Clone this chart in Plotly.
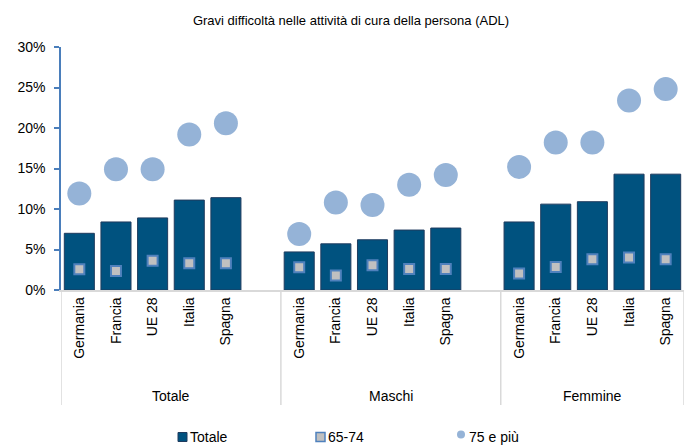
import plotly.graph_objects as go

groups = ["Totale", "Maschi", "Femmine"]
countries = ["Germania", "Francia", "UE 28", "Italia", "Spagna"]

totale = {
    "Totale": [7.0, 8.4, 8.9, 11.1, 11.4],
    "Maschi": [4.7, 5.7, 6.2, 7.4, 7.65],
    "Femmine": [8.4, 10.6, 10.9, 14.3, 14.3],
}
eta_65_74 = {
    "Totale": [2.55, 2.35, 3.6, 3.3, 3.3],
    "Maschi": [2.8, 1.8, 3.05, 2.6, 2.6],
    "Femmine": [2.05, 2.85, 3.8, 4.0, 3.8],
}
eta_75_piu = {
    "Totale": [11.9, 14.9, 14.9, 19.2, 20.6],
    "Maschi": [6.9, 10.8, 10.5, 13.0, 14.2],
    "Femmine": [15.2, 18.2, 18.2, 23.4, 24.8],
}
y_ticks = [0, 5, 10, 15, 20, 25, 30]

FONT = "Liberation Sans, Arial, sans-serif"

# positions: each group has 5 slots + 1 empty slot (except the last)
xs, labels, tot, y65, y75 = [], [], [], [], []
group_ranges = []
pos = 0
for gi, g in enumerate(groups):
    start = pos
    for ci, c in enumerate(countries):
        xs.append(pos)
        labels.append(c)
        tot.append(totale[g][ci])
        y65.append(eta_65_74[g][ci])
        y75.append(eta_75_piu[g][ci])
        pos += 1
    if gi < len(groups) - 1:
        pos += 1
    group_ranges.append((start - 0.5, pos - 0.5))

fig = go.Figure()
fig.add_trace(go.Bar(
    x=xs, y=tot, name="Totale",
    marker=dict(color="#00527f", line=dict(color="#1f3b5e", width=1)),
    showlegend=False,
))
fig.add_trace(go.Scatter(
    x=xs, y=y65, name="65-74", mode="markers",
    marker=dict(symbol="square", size=10, color="#c0c0c0",
                line=dict(color="#4f81bd", width=2)),
    showlegend=False,
))
fig.add_trace(go.Scatter(
    x=xs, y=y75, name="75 e più", mode="markers",
    marker=dict(symbol="circle", size=24, color="#95b3d7",
                line=dict(color="#95b3d7", width=0)),
    showlegend=False,
))

shapes = []
annotations = []
# group separators
bounds = [group_ranges[0][0]] + [r[1] for r in group_ranges]
for b in bounds:
    shapes.append(dict(type="line", xref="x", yref="paper", x0=b, x1=b,
                       y0=0, y1=-0.473, line=dict(color="#d9d9d9", width=1.5)))
for g, (a, b) in zip(groups, group_ranges):
    annotations.append(dict(x=(a + b) / 2, y=-0.436, xref="x", yref="paper",
                            text=g, showarrow=False, xanchor="center", yanchor="middle",
                            font=dict(family=FONT, size=14, color="#000")))

# manual legend
leg_y = -0.605
px = lambda p: (p - 61) / 623.0
shapes.append(dict(type="rect", xref="paper", yref="paper",
                   x0=px(178), x1=px(187), y0=leg_y - 4.5 / 243, y1=leg_y + 4.5 / 243,
                   fillcolor="#00527f", line=dict(color="#1f3b5e", width=1)))
annotations.append(dict(x=px(188), y=leg_y, xref="paper", yref="paper", text="Totale",
                        xanchor="left", yanchor="middle", showarrow=False,
                        font=dict(family=FONT, size=14, color="#000")))
shapes.append(dict(type="rect", xref="paper", yref="paper",
                   x0=px(316), x1=px(325), y0=leg_y - 4.5 / 243, y1=leg_y + 4.5 / 243,
                   fillcolor="#c0c0c0", line=dict(color="#4f81bd", width=1.5)))
annotations.append(dict(x=px(326), y=leg_y, xref="paper", yref="paper", text="65-74",
                        xanchor="left", yanchor="middle", showarrow=False,
                        font=dict(family=FONT, size=14, color="#000")))
shapes.append(dict(type="circle", xref="paper", yref="paper",
                   x0=px(457), x1=px(465), y0=leg_y - 1.5 / 243, y1=leg_y + 6.5 / 243,
                   fillcolor="#95b3d7", line=dict(color="#95b3d7", width=0)))
annotations.append(dict(x=px(467), y=leg_y, xref="paper", yref="paper", text="75 e più",
                        xanchor="left", yanchor="middle", showarrow=False,
                        font=dict(family=FONT, size=14, color="#000")))

fig.update_layout(
    width=688, height=445,
    margin=dict(l=61, r=4, t=47, b=155),
    paper_bgcolor="white", plot_bgcolor="white",
    bargap=0.18,
    title=dict(text="Gravi difficoltà nelle attività di cura della persona (ADL)",
               x=(351 - 61) / 623.0, xref="paper", xanchor="center",
               y=1 - 20 / 445.0, yanchor="middle",
               font=dict(family=FONT, size=13, color="#000")),
    shapes=shapes, annotations=annotations,
    xaxis=dict(range=[-0.5, pos - 0.5], tickmode="array", tickvals=xs, ticktext=labels,
               tickangle=-90, tickfont=dict(family=FONT, size=14, color="#000"),
               showline=True, linecolor="#d9d9d9", linewidth=1.5,
               showgrid=False, zeroline=False, ticks=""),
    yaxis=dict(range=[0, 30], tickmode="array", tickvals=y_ticks,
               ticktext=[f"{v}%" for v in y_ticks],
               tickfont=dict(family=FONT, size=14, color="#000"),
               showline=True, linecolor="#4a7ebb", linewidth=1.5,
               ticks="outside", ticklen=5, tickcolor="#4a7ebb", tickwidth=1.5,
               ticklabelstandoff=6,
               showgrid=False, zeroline=False),
)

fig.write_html("out.html", config={"displayModeBar": False},
               post_script="document.body.style.margin='0';document.body.style.overflow='hidden';")
